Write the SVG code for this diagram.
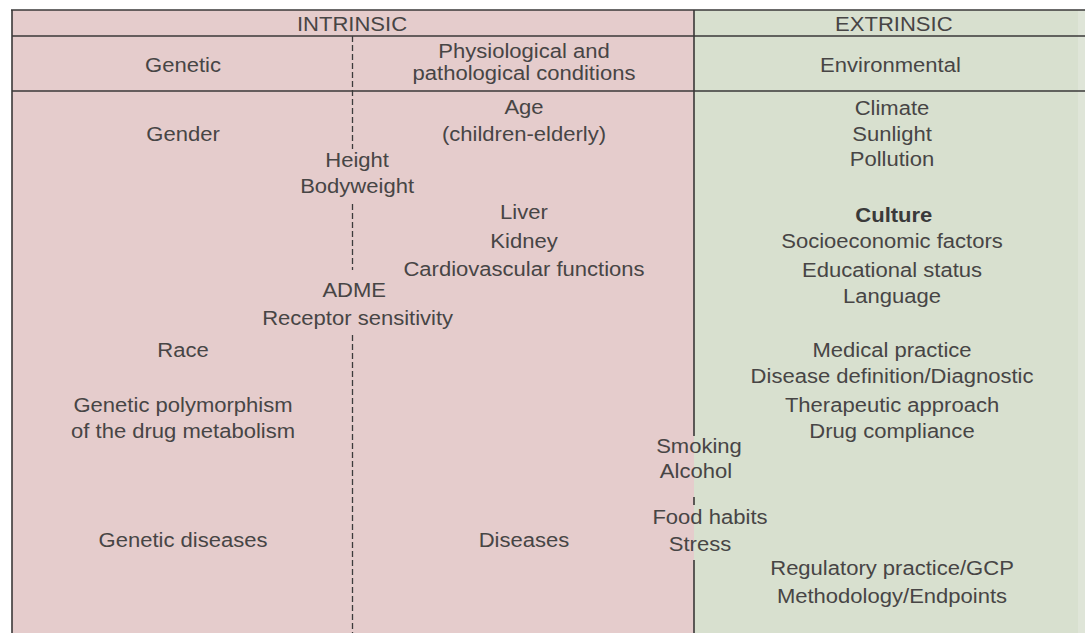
<svg xmlns="http://www.w3.org/2000/svg" width="1085" height="633" viewBox="0 0 1085 633">
<style>
.t{font-family:"Liberation Sans",Arial,sans-serif;font-size:19.5px;fill:#474545;text-anchor:middle}
.b{font-weight:bold;fill:#3a3a3a}
.rule{stroke:#3a3838;stroke-width:1.6;fill:none}
.dash{stroke:#3c3c3c;stroke-width:1.3;stroke-dasharray:6 3;fill:none}
</style>
<rect x="0" y="0" width="1085" height="633" fill="#ffffff"/>
<rect x="12" y="10" width="682" height="623" fill="#e5cccc"/>
<rect x="694" y="10" width="391" height="623" fill="#d8e0cf"/>
<rect x="1078" y="10" width="7" height="623" fill="#dfe5d8"/>
<g id="connectors">
<line class="rule" x1="11" y1="10" x2="1085" y2="10" stroke-width="2.6" stroke="#111"/>
<line class="rule" x1="12" y1="36" x2="1085" y2="36"/>
<line class="rule" x1="12" y1="91" x2="1085" y2="91"/>
<line class="rule" x1="12" y1="10" x2="12" y2="633" stroke-width="2.2"/>
<line class="rule" x1="694" y1="10" x2="694" y2="436"/>
<line class="rule" x1="694" y1="497" x2="694" y2="505"/>
<line class="rule" x1="694" y1="560" x2="694" y2="633"/>
<line class="dash" x1="352.5" y1="36" x2="352.5" y2="149"/>
<line class="dash" x1="352.5" y1="204" x2="352.5" y2="270"/>
<line class="dash" x1="352.5" y1="335" x2="352.5" y2="633"/>
</g>
<g transform="scale(1.13,1)">
<g id="header">
<text class="t" x="311.5" y="31">INTRINSIC</text>
<text class="t" x="791" y="31">EXTRINSIC</text>
</g>
<g id="col-genetic">
<text class="t" x="162" y="72">Genetic</text>
<text class="t" x="162" y="141">Gender</text>
<text class="t" x="162" y="357">Race</text>
<text class="t" x="162" y="412">Genetic polymorphism</text>
<text class="t" x="162" y="438">of the drug metabolism</text>
<text class="t" x="162" y="547">Genetic diseases</text>
</g>
<g id="col-shared">
<text class="t" x="316" y="167">Height</text>
<text class="t" x="316" y="193">Bodyweight</text>
<text class="t" x="313.5" y="297">ADME</text>
<text class="t" x="316.5" y="325">Receptor sensitivity</text>
</g>
<g id="col-physio">
<text class="t" x="463.7" y="58">Physiological and</text>
<text class="t" x="463.7" y="80">pathological conditions</text>
<text class="t" x="463.7" y="114">Age</text>
<text class="t" x="463.7" y="141">(children-elderly)</text>
<text class="t" x="463.7" y="219">Liver</text>
<text class="t" x="463.7" y="248">Kidney</text>
<text class="t" x="463.7" y="276">Cardiovascular functions</text>
<text class="t" x="463.7" y="547">Diseases</text>
</g>
<g id="col-lifestyle">
<text class="t" x="618.6" y="453">Smoking</text>
<text class="t" x="615.9" y="478">Alcohol</text>
<text class="t" x="628.3" y="524">Food habits</text>
<text class="t" x="619.5" y="551">Stress</text>
</g>
<g id="col-environmental">
<text class="t" x="788" y="72">Environmental</text>
<text class="t" x="789.4" y="115">Climate</text>
<text class="t" x="789.4" y="141">Sunlight</text>
<text class="t" x="789.4" y="166">Pollution</text>
<text class="t b" x="791" y="222">Culture</text>
<text class="t" x="789.4" y="248">Socioeconomic factors</text>
<text class="t" x="789.4" y="277">Educational status</text>
<text class="t" x="789.4" y="303">Language</text>
<text class="t" x="789.4" y="357">Medical practice</text>
<text class="t" x="789.4" y="383">Disease definition/Diagnostic</text>
<text class="t" x="789.4" y="412">Therapeutic approach</text>
<text class="t" x="789.4" y="438">Drug compliance</text>
<text class="t" x="789.4" y="575">Regulatory practice/GCP</text>
<text class="t" x="789.4" y="603">Methodology/Endpoints</text>
</g>
</g>
</svg>
